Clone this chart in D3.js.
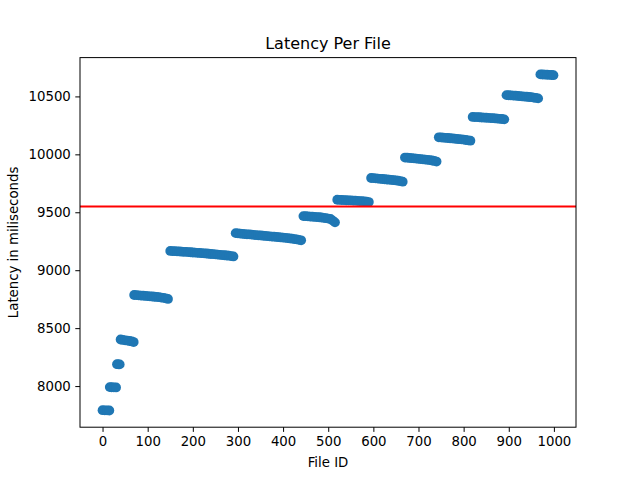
<!DOCTYPE html>
<html>
<head>
<meta charset="utf-8">
<script src="https://cdn.jsdelivr.net/npm/d3@7"></script>
<style>
  body { margin: 0; background: #fff; }
  svg { font-family: "DejaVu Sans", sans-serif; }
</style>
</head>
<body>
<div id="chart"></div>
<script>
const fileIds = [
  0, 5, 10, 15,
  16, 20, 25, 30,
  32, 35, 38,
  40, 45, 50, 55, 60, 65, 69,
  70, 75, 80, 85, 90, 95, 100, 105, 110, 115, 120, 125, 130, 135, 140, 145,
  150, 155, 160, 165, 170, 175, 180, 185, 190, 195, 200, 205, 210, 215, 220,
  225, 230, 235, 240, 245, 250, 255, 260, 265, 270, 275, 280, 285, 290,
  295, 300, 305, 310, 315, 320, 325, 330, 335, 340, 345, 350, 355, 360, 365,
  370, 375, 380, 385, 390, 395, 400, 405, 410, 415, 420, 425, 430, 435, 440,
  445, 450, 455, 460, 465, 470, 475, 480, 485, 490, 495, 500, 505, 510, 515,
  520, 525, 530, 535, 540, 545, 550, 555, 560, 565, 570, 575, 580, 585, 590,
  595, 600, 605, 610, 615, 620, 625, 630, 635, 640, 645, 650, 655, 660, 665,
  670, 675, 680, 685, 690, 695, 700, 705, 710, 715, 720, 725, 730, 735, 740,
  745, 750, 755, 760, 765, 770, 775, 780, 785, 790, 795, 800, 805, 810, 815,
  820, 825, 830, 835, 840, 845, 850, 855, 860, 865, 870, 875, 880, 885, 890,
  895, 900, 905, 910, 915, 920, 925, 930, 935, 940, 945, 950, 955, 960, 965,
  970, 975, 980, 985, 990, 995, 999
];
const latency = [
  7792, 7791, 7790, 7789,
  7991, 7990, 7989, 7988,
  8189, 8188, 8187,
  8402, 8398, 8395, 8392, 8389, 8385, 8380,
  8786, 8785, 8783, 8781, 8780, 8778, 8776, 8775, 8773, 8771, 8769, 8767, 8764, 8761, 8757, 8752,
  9166, 9165, 9164, 9163, 9162, 9160, 9159, 9158, 9156, 9155, 9153, 9152, 9150, 9149, 9147,
  9145, 9144, 9142, 9140, 9139, 9137, 9135, 9133, 9131, 9129, 9127, 9125, 9122, 9119,
  9320, 9318, 9316, 9314, 9312, 9310, 9309, 9307, 9305, 9303, 9301, 9300, 9298, 9296, 9294,
  9292, 9290, 9289, 9287, 9285, 9283, 9281, 9279, 9277, 9274, 9272, 9269, 9266, 9262, 9258,
  9467, 9466, 9465, 9463, 9462, 9460, 9459, 9457, 9455, 9452, 9449, 9446, 9442, 9428, 9413,
  9608, 9607, 9606, 9605, 9604, 9603, 9602, 9601, 9600, 9599, 9597, 9596, 9594, 9592, 9588,
  9796, 9795, 9793, 9791, 9789, 9787, 9785, 9783, 9781, 9779, 9777, 9775, 9772, 9769, 9764,
  9972, 9971, 9969, 9967, 9965, 9963, 9961, 9959, 9957, 9955, 9953, 9950, 9947, 9943, 9938,
  10147, 10146, 10144, 10143, 10141, 10139, 10137, 10135, 10133, 10131, 10129, 10127, 10124, 10121, 10118,
  10323, 10322, 10321, 10320, 10318, 10317, 10316, 10315, 10313, 10312, 10310, 10309, 10307, 10305, 10302,
  10511, 10510, 10509, 10507, 10506, 10504, 10502, 10500, 10499, 10497, 10495, 10493, 10490, 10487, 10483,
  10690, 10689, 10688, 10687, 10686, 10685, 10683
];
const meanLatency = 9550;
const xTicks = [0, 100, 200, 300, 400, 500, 600, 700, 800, 900, 1000];
const yTicks = [8000, 8500, 9000, 9500, 10000, 10500];

const data = fileIds.map((id, i) => ({ id: id, ms: latency[i] }));

const width = 640;
const height = 480;
const margin = { top: 57.6, right: 64, bottom: 52.8, left: 80 };

const svg = d3.select("#chart")
  .append("svg")
  .attr("width", width)
  .attr("height", height);

// matplotlib style 5% padding around the data
const xPad = (999 - 0) * 0.05;
const yMin = 7645, yMax = 10835;

const x = d3.scaleLinear()
  .domain([0 - xPad, 999 + xPad])
  .range([margin.left, width - margin.right]);

const y = d3.scaleLinear()
  .domain([yMin, yMax])
  .range([height - margin.bottom, margin.top]);

svg.append("g")
  .attr("fill", "#1f77b4")
  .selectAll("circle")
  .data(data)
  .join("circle")
  .attr("cx", d => x(d.id))
  .attr("cy", d => y(d.ms))
  .attr("r", 4.9);

// mean line
svg.append("line")
  .attr("x1", margin.left)
  .attr("x2", width - margin.right)
  .attr("y1", y(meanLatency))
  .attr("y2", y(meanLatency))
  .attr("stroke", "red")
  .attr("stroke-width", 2);

// frame
svg.append("rect")
  .attr("x", margin.left)
  .attr("y", margin.top)
  .attr("width", width - margin.left - margin.right)
  .attr("height", height - margin.top - margin.bottom)
  .attr("fill", "none")
  .attr("stroke", "black")
  .attr("stroke-width", 1);

const xAxis = svg.append("g")
  .attr("transform", `translate(0,${height - margin.bottom})`)
  .call(d3.axisBottom(x).tickValues(xTicks).tickSize(4.7).tickPadding(4.5).tickFormat(d3.format("d")));

const yAxis = svg.append("g")
  .attr("transform", `translate(${margin.left},0)`)
  .call(d3.axisLeft(y).tickValues(yTicks).tickSize(4.7).tickPadding(4.5).tickFormat(d3.format("d")));

[xAxis, yAxis].forEach(g => {
  g.select(".domain").remove();
  g.selectAll("text")
    .attr("font-family", "DejaVu Sans, sans-serif")
    .attr("font-size", 13.3)
    .attr("fill", "black");
  g.selectAll("line").attr("stroke", "black").attr("stroke-width", 1);
});

svg.append("text")
  .attr("x", (margin.left + width - margin.right) / 2)
  .attr("y", 49)
  .attr("text-anchor", "middle")
  .attr("font-size", 16)
  .text("Latency Per File");

svg.append("text")
  .attr("x", (margin.left + width - margin.right) / 2)
  .attr("y", 467)
  .attr("text-anchor", "middle")
  .attr("font-size", 13.3)
  .text("File ID");

svg.append("text")
  .attr("transform", `translate(18,${(margin.top + height - margin.bottom) / 2}) rotate(-90)`)
  .attr("text-anchor", "middle")
  .attr("font-size", 13.3)
  .text("Latency in miliseconds");
</script>
</body>
</html>
